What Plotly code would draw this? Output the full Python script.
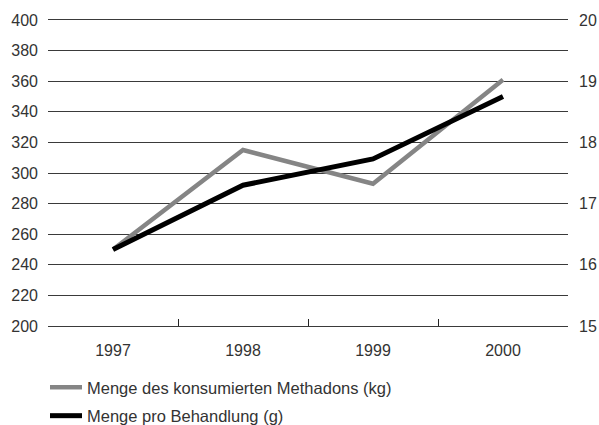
import plotly.graph_objects as go

years = [1997, 1998, 1999, 2000]
year_labels = ["1997", "1998", "1999", "2000"]
methadon_kg = [250, 315, 293, 361]
pro_behandlung_g = [16.25, 17.3, 17.73, 18.75]
left_ticks = [200, 220, 240, 260, 280, 300, 320, 340, 360, 380, 400]
right_ticks = [15, 16, 17, 18, 19, 20]

name1 = "Menge des konsumierten Methadons (kg)"
name2 = "Menge pro Behandlung (g)"

font_fam = "Liberation Sans, Arial, sans-serif"
txt = "#333333"
grid = "#3a3a3a"

W, H = 599, 425
ml, mr, mt, mb = 48, 31, 20, 99
pw, ph = W - ml - mr, H - mt - mb

fig = go.Figure()
fig.add_trace(go.Scatter(x=years, y=methadon_kg, name=name1, mode="lines", legendgroup="a",
                         line=dict(color="#858585", width=4.5), yaxis="y"))
fig.add_trace(go.Scatter(x=years, y=pro_behandlung_g, name=name2, mode="lines", legendgroup="b",
                         line=dict(color="#000000", width=5), yaxis="y2"))

boundaries = [(years[i] + years[i + 1]) / 2 for i in range(len(years) - 1)]

fig.update_layout(
    width=W, height=H,
    margin=dict(l=ml, r=mr, t=mt, b=mb, autoexpand=False),
    paper_bgcolor="white", plot_bgcolor="white",
    font=dict(family=font_fam, size=16, color=txt),
    showlegend=True,
    legend=dict(orientation="v", x=(45 - ml) / pw, xanchor="left",
                y=-(433 - (H - mb)) / ph, yanchor="bottom",
                font=dict(size=16.5, color=txt), tracegroupgap=4, itemwidth=32,
                bgcolor="rgba(0,0,0,0)"),
    xaxis=dict(range=[years[0] - 0.5, years[-1] + 0.5], tickvals=years, ticktext=year_labels,
               ticks="", showgrid=False, zeroline=False,
               showline=True, mirror=True, linecolor=grid, linewidth=1.2,
               automargin=False, ticklabelstandoff=10,
               minor=dict(tickvals=boundaries, ticks="inside", ticklen=7, tickwidth=1,
                          tickcolor="#222", showgrid=False),
               tickfont=dict(size=16, color=txt)),
    yaxis=dict(range=[200, 400], tickvals=left_ticks, showgrid=True, gridcolor=grid,
               gridwidth=1.2, zeroline=False, showline=False, ticks="",
               automargin=False, ticklabelstandoff=9, tickfont=dict(size=16, color=txt)),
    yaxis2=dict(range=[15, 20], tickvals=right_ticks, overlaying="y", side="right",
                showgrid=False, zeroline=False, showline=False, ticks="",
                automargin=False, ticklabelstandoff=10, tickfont=dict(size=16, color=txt)),
)

fig.write_html("out.html", post_script="document.body.style.margin='0';",
               config={"displayModeBar": False})
